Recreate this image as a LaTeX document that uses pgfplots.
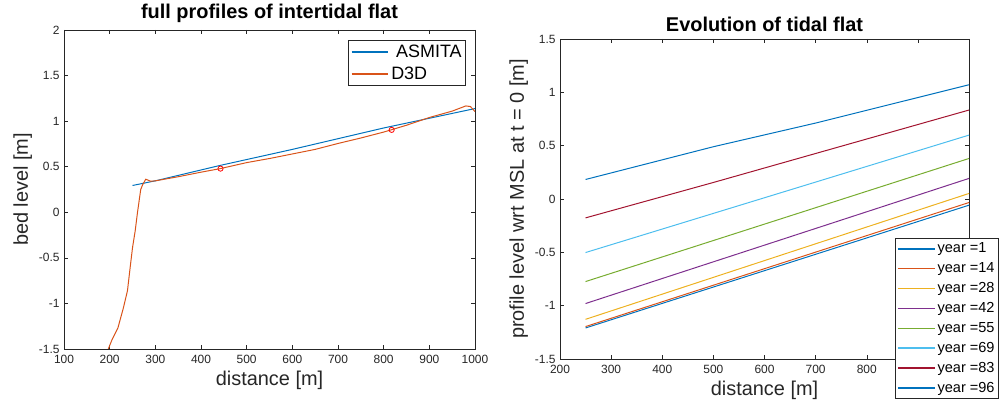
\documentclass[border=0pt]{standalone}
\usepackage{fontspec}
\setmainfont{Liberation Sans}
\usepackage{pgfplots}
\pgfplotsset{compat=1.18}
\definecolor{axgray}{rgb}{0.15,0.15,0.15}
\definecolor{c1}{rgb}{0,0.447,0.741}
\definecolor{c2}{rgb}{0.85,0.325,0.098}
\definecolor{c3}{rgb}{0.929,0.694,0.125}
\definecolor{c4}{rgb}{0.494,0.184,0.556}
\definecolor{c5}{rgb}{0.466,0.674,0.188}
\definecolor{c6}{rgb}{0.301,0.745,0.933}
\definecolor{c7}{rgb}{0.635,0.078,0.184}
\pgfplotsset{
  mstyle/.style={
    scale only axis,
    axis line style={draw=axgray, line width=0.6pt},
    every tick/.style={draw=axgray, line width=0.5pt},
    major tick length=4.5pt,
    tick align=inside,
    ticklabel style={font=\fontsize{12}{14}\selectfont, text=axgray},
    /pgf/number format/assume math mode=true,
    /pgf/number format/1000 sep={},
    xticklabel style={yshift=-3pt},
    yticklabel style={xshift=-1pt},
    label style={font=\fontsize{20}{24}\selectfont, text=axgray},
    title style={font=\fontsize{20}{24}\selectfont\bfseries, yshift=-2pt},
    legend cell align=left,
    every axis plot/.append style={line width=1pt},
  }
}
\begin{document}
\begin{tikzpicture}
\path[use as bounding box] (0,0) rectangle (1003bp,408bp);
\begin{axis}[mstyle,
  at={(64bp,59bp)}, anchor=south west,
  width=411bp, height=319bp,
  xmin=100, xmax=1000, ymin=-1.5, ymax=2,
  xtick={100,200,...,1000}, ytick={-1.5,-1,...,2},
  title={full profiles of intertidal flat},
  xlabel={distance [m]}, ylabel={bed level [m]},
  legend image code/.code={\draw[#1, line width=1.8pt] (0pt,0pt) -- (37pt,0pt);},
  legend style={at={(0.978,0.969)}, anchor=north east, draw=axgray, line width=0.6pt,
    font=\fontsize{18}{20}\selectfont, inner xsep=2pt, inner ysep=2.5pt,
    row sep=4.5pt},
]
\addplot[draw=c1] coordinates {(250,0.294) (300,0.345) (440,0.512) (600,0.69) (800,0.925) (1000,1.138)};
\addlegendentry{\ ASMITA}
\addplot[draw=c2] coordinates {(193,-1.55) (205,-1.4) (218,-1.27) (230,-1.05) (239,-0.86) (245,-0.6) (250,-0.39) (256,-0.2) (261,0.0) (268,0.25) (272,0.30) (279,0.363) (290,0.34) (300,0.345) (350,0.39) (400,0.44) (441,0.478) (500,0.545) (550,0.59) (600,0.64) (650,0.69) (700,0.755) (750,0.815) (800,0.88) (850,0.955) (900,1.04) (950,1.11) (980,1.167) (990,1.16) (1000,1.105)};
\addlegendentry{D3D}
\addplot[draw=red, only marks, mark=o, mark size=2.6pt, line width=0.8pt, forget plot] coordinates {(442.7,0.479) (817.5,0.904)};
\end{axis}
\begin{axis}[mstyle,
  at={(560bp,49bp)}, anchor=south west,
  width=409bp, height=320bp,
  xmin=200, xmax=1000, ymin=-1.5, ymax=1.5,
  xtick={200,300,...,1000}, ytick={-1.5,-1,...,1.5},
  title={Evolution of tidal flat},
  xlabel={distance [m]}, ylabel={profile level wrt MSL at t = 0 [m]},
  legend image code/.code={\draw[#1, line width=1.8pt] (0pt,0pt) -- (37pt,0pt);},
  legend style={at={(1.073,-0.125)}, anchor=south east, draw=axgray, line width=0.6pt,
    font=\fontsize{14.6}{16}\selectfont, inner xsep=2pt, inner ysep=2.5pt,
    row sep=4.4pt},
]
\addplot[draw=c1] coordinates {(250,-1.209) (1000,-0.058)};
\addlegendentry{year =1}
\addplot[draw=c2] coordinates {(250,-1.196) (1000,-0.033)};
\addlegendentry{year =14}
\addplot[draw=c3] coordinates {(250,-1.128) (1000,0.052)};
\addlegendentry{year =28}
\addplot[draw=c4] coordinates {(250,-0.98) (1000,0.193)};
\addlegendentry{year =42}
\addplot[draw=c5] coordinates {(250,-0.774) (1000,0.380)};
\addlegendentry{year =55}
\addplot[draw=c6] coordinates {(250,-0.502) (1000,0.599)};
\addlegendentry{year =69}
\addplot[draw=c7] coordinates {(250,-0.177) (500,0.155) (1000,0.834)};
\addlegendentry{year =83}
\addplot[draw=c1] coordinates {(250,0.183) (500,0.49) (700,0.712) (1000,1.071)};
\addlegendentry{year =96}
\end{axis}
\end{tikzpicture}
\end{document}
